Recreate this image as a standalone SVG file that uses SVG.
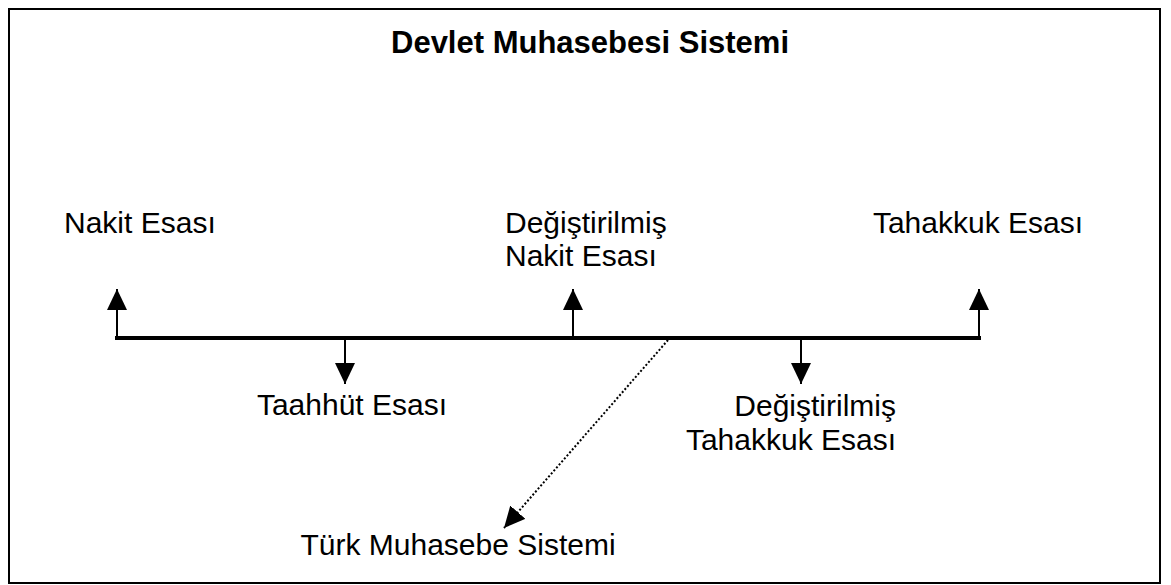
<svg xmlns="http://www.w3.org/2000/svg" width="1171" height="585" viewBox="0 0 1171 585">
<style>
text{font-family:"Liberation Sans",Arial,sans-serif;font-size:30px;fill:#000}
.title{font-weight:bold;font-size:31px}
.axis{stroke:#000;stroke-width:4;fill:none;stroke-linecap:square}
.arr{stroke:#000;stroke-width:2;fill:none}
.dot{stroke:#000;stroke-width:2;fill:none;stroke-dasharray:2 2}
</style>
<defs>
<marker id="ah" markerUnits="userSpaceOnUse" markerWidth="22" markerHeight="22" refX="21" refY="10" orient="auto">
<path d="M0,0 L21,10 L0,20 z" fill="#000"/>
</marker>
</defs>
<rect x="9" y="9" width="1151" height="574" fill="#fff" stroke="#000" stroke-width="2"/>
<g id="title"><text class="title" x="590" y="53" text-anchor="middle">Devlet Muhasebesi Sistemi</text></g>
<g id="nakit"><text x="64" y="233">Nakit Esası</text></g>
<g id="degistirilmis-nakit"><text x="505" y="233">Değiştirilmiş</text><text x="505" y="266">Nakit Esası</text></g>
<g id="tahakkuk"><text x="1083" y="233" text-anchor="end">Tahakkuk Esası</text></g>
<g id="taahhut"><text x="352" y="415" text-anchor="middle">Taahhüt Esası</text></g>
<g id="degistirilmis-tahakkuk"><text x="896" y="416" text-anchor="end">Değiştirilmiş</text><text x="896" y="450" text-anchor="end">Tahakkuk Esası</text></g>
<g id="turk"><text x="458" y="555" text-anchor="middle">Türk Muhasebe Sistemi</text></g>
<g id="connectors">
<line class="axis" x1="117" y1="338" x2="979" y2="338"/>
<line class="arr" x1="117" y1="338" x2="117" y2="289" marker-end="url(#ah)"/>
<line class="arr" x1="573" y1="338" x2="573" y2="289" marker-end="url(#ah)"/>
<line class="arr" x1="979" y1="338" x2="979" y2="289" marker-end="url(#ah)"/>
<line class="arr" x1="345" y1="338" x2="345" y2="384" marker-end="url(#ah)"/>
<line class="arr" x1="801" y1="338" x2="801" y2="384" marker-end="url(#ah)"/>
<line class="dot" x1="668" y1="340" x2="504" y2="528" marker-end="url(#ah)"/>
</g>
</svg>
